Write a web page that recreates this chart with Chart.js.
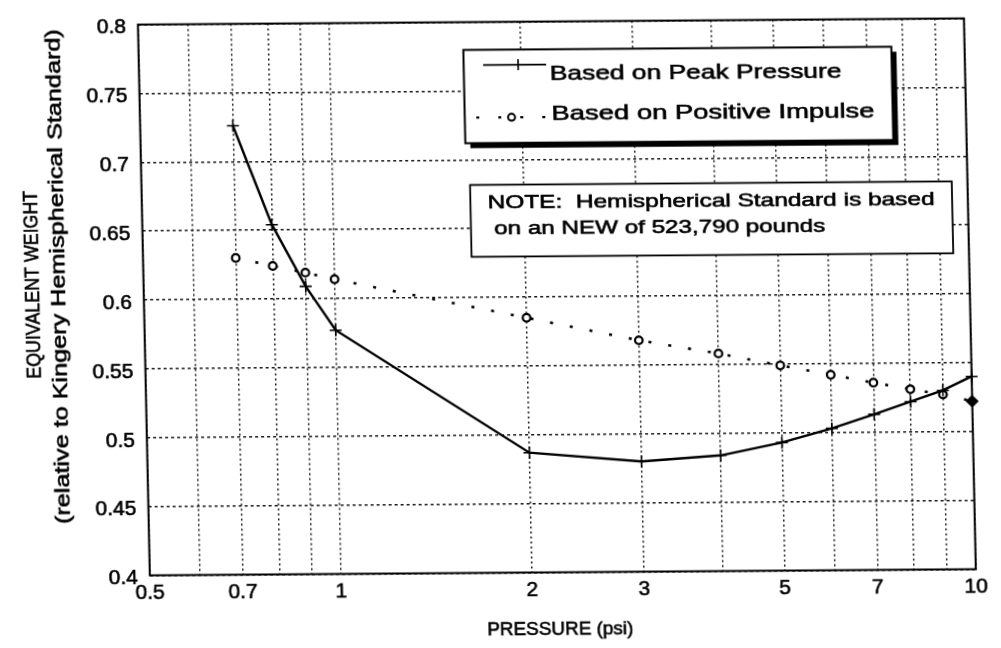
<!DOCTYPE html>
<html>
<head>
<meta charset="utf-8">
<script src="https://cdn.jsdelivr.net/npm/chart.js@4/dist/chart.umd.min.js"></script>
<style>
  html, body { margin: 0; padding: 0; background: #fff; overflow: hidden; }
  #chart {
    position: absolute; left: 0; top: 0;
    /* the printed sheet sits slightly askew */
    transform-origin: 137.7px 14px;
    transform: matrix(1, -0.0075, 0.0216, 1, 0, 0);
  }
</style>
</head>
<body>
<canvas id="chart" width="1001" height="648"></canvas>
<script>
const FONT = '"Liberation Sans", Arial, Helvetica, sans-serif';

// pressure (psi)
const pressure = [0.7, 0.8, 0.9, 1, 2, 3, 4, 5, 6, 7, 8, 9, 10];
const peakPressure = [0.726, 0.654, 0.609, 0.577, 0.487, 0.480, 0.484, 0.493, 0.503, 0.513, 0.522, 0.530, 0.540];
const positiveImpulse = [0.630, 0.624, 0.619, 0.614, 0.585, 0.568, 0.558, 0.549, 0.542, 0.536, 0.531, 0.527, 0.522];

const xGridValues = [0.5, 0.6, 0.7, 0.8, 0.9, 1, 2, 3, 4, 5, 6, 7, 8, 9, 10];
const xTickLabels = [0.5, 0.7, 1, 2, 3, 5, 7, 10];
const yTicks = [0.4, 0.45, 0.5, 0.55, 0.6, 0.65, 0.7, 0.75, 0.8];
const yTickLabels = ['0.4', '0.45', '0.5', '0.55', '0.6', '0.65', '0.7', '0.75', '0.8'];

const seriesNames = ['Based on Peak Pressure', 'Based on Positive Impulse'];
const noteLines = ['NOTE:  Hemispherical Standard is based', 'on an NEW of 523,790 pounds'];
const xTitle = 'PRESSURE (psi)';
const yTitleLines = ['EQUIVALENT WEIGHT', '(relative to Kingery Hemispherical Standard)'];

function pairs(xs, ys) {
    return xs.map((x, i) => ({ x: x, y: ys[i] }));
}

// draws text stretched horizontally to a given width, slightly heavy like print
function fitText(ctx, text, x, y, width, size, align) {
    ctx.save();
    ctx.font = size + 'px ' + FONT;
    ctx.fillStyle = '#000';
    ctx.strokeStyle = '#000';
    ctx.lineWidth = 0.6;
    ctx.textBaseline = 'alphabetic';
    ctx.textAlign = align || 'left';
    const w = ctx.measureText(text).width;
    ctx.translate(x, y);
    ctx.scale(width / w, 1);
    ctx.fillText(text, 0, 0);
    ctx.strokeText(text, 0, 0);
    ctx.restore();
}

const decorations = {
    id: 'decorations',
    afterDraw(chart) {
        const ctx = chart.ctx;
        const a = chart.chartArea;

        // plot frame
        ctx.save();
        ctx.strokeStyle = '#000';
        ctx.lineWidth = 2;
        ctx.strokeRect(a.left, a.top, a.right - a.left, a.bottom - a.top);
        ctx.restore();

        // legend box with drop shadow
        const lx = 462.5, ly = 52.4, lw = 428, lh = 93.3;
        ctx.save();
        ctx.fillStyle = '#000';
        ctx.fillRect(lx + 5, ly + 5, lw, lh);
        ctx.fillStyle = '#fff';
        ctx.fillRect(lx, ly, lw, lh);
        ctx.strokeStyle = '#000';
        ctx.lineWidth = 2;
        ctx.strokeRect(lx, ly, lw, lh);

        // sample: solid line with cross
        ctx.lineWidth = 1.6;
        ctx.beginPath();
        ctx.moveTo(482, 67.6);
        ctx.lineTo(545, 67.6);
        ctx.moveTo(517, 62);
        ctx.lineTo(517, 73);
        ctx.stroke();

        // sample: dotted line with open marker
        ctx.lineWidth = 2.2;
        ctx.setLineDash([3, 19]);
        ctx.beginPath();
        ctx.moveTo(474, 120.1);
        ctx.lineTo(548, 120.1);
        ctx.stroke();
        ctx.setLineDash([]);
        ctx.lineWidth = 2;
        ctx.beginPath();
        ctx.arc(509.3, 120.1, 3.5, 0, Math.PI * 2);
        ctx.fillStyle = '#fff';
        ctx.fill();
        ctx.stroke();
        ctx.restore();

        fitText(ctx, seriesNames[0], 548.5, 83.1, 291.7, 21);
        fitText(ctx, seriesNames[1], 549.3, 123.1, 323, 21);

        // note box
        ctx.save();
        ctx.fillStyle = '#fff';
        ctx.fillRect(466.3, 187.5, 481.7, 71.9);
        ctx.strokeStyle = '#000';
        ctx.lineWidth = 1.8;
        ctx.strokeRect(466.3, 187.5, 481.7, 71.9);
        ctx.restore();
        fitText(ctx, noteLines[0], 483.5, 210.5, 447, 19);
        fitText(ctx, noteLines[1], 489.5, 236.5, 331, 19);

        // axis titles
        fitText(ctx, xTitle, 547, 638, 146, 19, 'center');
        ctx.save();
        ctx.translate(33, 287);
        ctx.rotate(-Math.PI / 2);
        fitText(ctx, yTitleLines[0], 3, 0, 188, 20, 'center');
        fitText(ctx, yTitleLines[1], 11, 26, 495, 20, 'center');
        ctx.restore();
    }
};

const tickFont = size => ({ family: FONT, size: size });

new Chart(document.getElementById('chart'), {
    type: 'scatter',
    data: {
        datasets: [
            {
                label: seriesNames[0],
                data: pairs(pressure, peakPressure),
                showLine: true,
                clip: false,
                borderColor: '#000',
                borderWidth: 2.4,
                pointStyle: 'cross',
                pointRadius: 6,
                pointBorderWidth: 1.6,
                pointBorderColor: '#000',
                tension: 0
            },
            {
                label: seriesNames[1],
                data: pairs(pressure, positiveImpulse),
                showLine: true,
                clip: false,
                borderColor: '#000',
                borderWidth: 2.6,
                borderDash: [3, 17],
                pointStyle: ctx => ctx.dataIndex === pressure.length - 1 ? 'rectRot' : 'circle',
                pointRadius: ctx => ctx.dataIndex === pressure.length - 1 ? 5 : 3.8,
                pointBorderWidth: 2.2,
                pointBorderColor: '#000',
                pointBackgroundColor: ctx => ctx.dataIndex === pressure.length - 1 ? '#000' : '#fff',
                tension: 0
            }
        ]
    },
    options: {
        responsive: false,
        animation: false,
        events: [],
        layout: { padding: { left: 0, top: 14, right: 37.3, bottom: 0 } },
        plugins: {
            legend: { display: false },
            tooltip: { enabled: false }
        },
        scales: {
            x: {
                type: 'logarithmic',
                min: 0.5,
                max: 10,
                afterBuildTicks: s => { s.ticks = xGridValues.map(v => ({ value: v })); },
                afterFit: s => { s.height = 72.5; },
                grid: { color: '#1a1a1a', lineWidth: 1.5, drawTicks: false },
                border: { display: false, dash: [2, 3] },
                ticks: {
                    autoSkip: false,
                    maxRotation: 0,
                    padding: 5,
                    color: '#000',
                    textStrokeColor: '#000',
                    textStrokeWidth: 0.6,
                    font: tickFont(21),
                    callback: v => xTickLabels.includes(v) ? String(v) : ''
                }
            },
            y: {
                type: 'linear',
                min: 0.4,
                max: 0.8,
                afterBuildTicks: s => { s.ticks = yTicks.map(v => ({ value: v })); },
                afterFit: s => { s.width = 137.7; },
                grid: { color: '#1a1a1a', lineWidth: 1.5, drawTicks: false },
                border: { display: false, dash: [3, 3] },
                ticks: {
                    padding: 12,
                    labelOffset: 3,
                    color: '#000',
                    textStrokeColor: '#000',
                    textStrokeWidth: 0.6,
                    font: tickFont(21),
                    callback: (v, i) => yTickLabels[i]
                }
            }
        }
    },
    plugins: [decorations]
});
</script>
</body>
</html>
